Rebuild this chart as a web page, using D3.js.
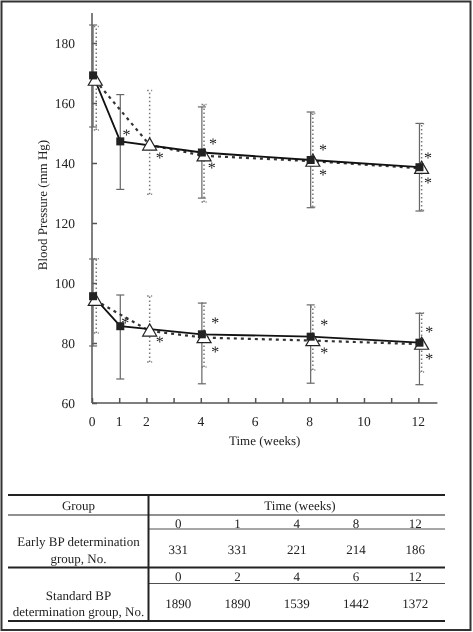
<!DOCTYPE html>
<html><head><meta charset="utf-8">
<script src="https://cdn.jsdelivr.net/npm/d3@7"></script>
<style>
html,body{margin:0;padding:0;background:#fff;}
svg{will-change:transform;transform:translateZ(0);}
svg text{text-rendering:geometricPrecision;}
</style></head><body>
<svg id="c" width="473" height="632" font-family="'Liberation Serif', 'Times New Roman', 'DejaVu Serif', serif"></svg>
<script>
// ---- data ----
const weeksEarly = [0, 1, 4, 8, 12];
const weeksStd = [0, 2, 4, 8, 12];
const sbpEarly = [169.2, 147.2, 143.5, 141.0, 138.6];
const sbpEarlyLo = [152.0, 131.2, 128.3, 125.1, 124.0];
const sbpEarlyHi = [186.0, 162.8, 158.7, 157.0, 153.2];
const sbpStd = [167.6, 146.0, 142.4, 140.6, 138.2];
const sbpStdLo = [151.0, 129.6, 127.0, 125.3, 124.2];
const sbpStdHi = [185.5, 164.2, 159.5, 156.5, 153.1];
const dbpEarly = [95.6, 85.6, 82.9, 82.1, 80.1];
const dbpEarlyLo = [79.0, 68.0, 66.4, 66.6, 66.1];
const dbpEarlyHi = [108.0, 96.0, 93.3, 92.7, 89.9];
const dbpStd = [94.2, 84.0, 81.8, 80.8, 79.6];
const dbpStdLo = [83.3, 73.7, 72.0, 71.0, 70.3];
const dbpStdHi = [108.1, 95.7, 93.3, 92.0, 90.0];
// significance markers [week, mmHg]
const starsPos = [
  [1.27,150.3],[2.49,142.6],[4.45,147.2],[4.40,139.5],[8.49,145.3],[8.49,137.0],[12.35,142.6],[12.35,134.2],
  [1.22,87.8],[2.49,81.2],[4.53,87.8],[4.53,78.1],[8.54,87.0],[8.54,77.8],[12.40,84.8],[12.40,75.6]
];
const yTicks = [60, 80, 100, 120, 140, 160, 180];
const xTickMarks = [0,1,2,3,4,5,6,7,8,9,10,11,12];
const xTickLabels = [0, 1, 2, 4, 6, 8, 10, 12];
const tableCols = ["0","1","4","8","12"];
const tableEarly = ["331","331","221","214","186"];
const tableColsStd = ["0","2","4","6","12"];
const tableStd = ["1890","1890","1539","1442","1372"];

// ---- drawing ----
const FONT = "Liberation Serif";
const svg = d3.select("#c");
svg.append("rect").attr("x",0).attr("y",0).attr("width",473).attr("height",632).attr("fill","#fff");
svg.append("rect").attr("x",1.5).attr("y",1.5).attr("width",469).attr("height",628.5)
  .attr("fill","none").attr("stroke","#333").attr("stroke-width",2);

const x = d3.scaleLinear().domain([0, 12.7]).range([92, 437.4]);
const y = d3.scaleLinear().domain([60, 190]).range([403, 13]);
const offE = 0.04, offS = 0.12;

function T(sel) {
  return sel.attr("font-family", FONT).attr("fill", "#222");
}

// axes
const axisCol = "#555";
const yAxis = svg.append("g").attr("transform","translate(92,0)")
  .call(d3.axisRight(y).tickValues(yTicks).tickSize(5).tickFormat(""));
yAxis.selectAll("path,line").attr("stroke",axisCol).attr("stroke-width",1.5);
yAxis.select(".domain").attr("d", `M0,${y(190)}V${y(60)}`);
T(svg.append("g").selectAll("text").data(yTicks).join("text"))
  .attr("x",75).attr("y",d=>y(d)+4.5).attr("text-anchor","end")
  .attr("font-size",13.5).text(d=>d);

const xAxis = svg.append("g").attr("transform",`translate(0,${y(60)})`)
  .call(d3.axisTop(x).tickValues(xTickMarks).tickSize(5).tickFormat(""));
xAxis.selectAll("path,line").attr("stroke",axisCol).attr("stroke-width",1.5);
xAxis.select(".domain").attr("d", `M${x(0)},0H${x(12.7)}`);
T(svg.append("g").selectAll("text").data(xTickLabels).join("text"))
  .attr("x",d=>x(d)).attr("y",426).attr("text-anchor","middle")
  .attr("font-size",13.5).text(d=>d);

T(svg.append("text")).attr("x",x(6.35)).attr("y",445).attr("text-anchor","middle")
  .attr("font-size",13).text("Time (weeks)");
T(svg.append("text")).attr("transform","translate(47,205) rotate(-90)")
  .attr("text-anchor","middle").attr("font-size",13).text("Blood Pressure (mm Hg)");

// error bars
function errBars(weeks, lo, hi, off, dotted) {
  const g = svg.append("g").attr("stroke", dotted ? "#777" : "#666")
    .attr("stroke-width", dotted ? 1.5 : 1.2).attr("fill","none");
  if (dotted) g.attr("stroke-dasharray","1.5,2.5");
  const cw = dotted ? 2.5 : 4;
  weeks.forEach((w,i)=>{
    const cx = x(w+off) + (dotted && w===0 ? 1 : 0);
    g.append("line").attr("x1",cx).attr("x2",cx).attr("y1",y(lo[i])).attr("y2",y(hi[i]));
    g.append("line").attr("x1",cx-cw).attr("x2",cx+cw).attr("y1",y(lo[i])).attr("y2",y(lo[i]));
    g.append("line").attr("x1",cx-cw).attr("x2",cx+cw).attr("y1",y(hi[i])).attr("y2",y(hi[i]));
  });
}
errBars(weeksEarly, sbpEarlyLo, sbpEarlyHi, offE, false);
errBars(weeksStd, sbpStdLo, sbpStdHi, offS, true);
errBars(weeksEarly, dbpEarlyLo, dbpEarlyHi, offE, false);
errBars(weeksStd, dbpStdLo, dbpStdHi, offS, true);

// lines
function series(weeks, vals, off, dashed) {
  const pts = weeks.map((w,i)=>[x(w+off), y(vals[i])]);
  svg.append("path").attr("d", d3.line()(pts)).attr("fill","none")
    .attr("stroke", dashed ? "#333" : "#111").attr("stroke-width", dashed ? 2.2 : 1.8)
    .attr("stroke-dasharray", dashed ? "3,4" : null);
  return pts;
}
const pSS = series(weeksStd, sbpStd, offS, true);
const pDS = series(weeksStd, dbpStd, offS, true);
const pSE = series(weeksEarly, sbpEarly, offE, false);
const pDE = series(weeksEarly, dbpEarly, offE, false);

// markers
const tri = d3.symbol().type(d3.symbolTriangle).size(85);
[pSS, pDS].forEach(pts=>{
  svg.append("g").selectAll("path").data(pts).join("path")
    .attr("d", tri).attr("transform", d=>`translate(${d[0]},${d[1]+1})`)
    .attr("fill","#fff").attr("stroke","#222").attr("stroke-width",1.2);
});
[pSE, pDE].forEach(pts=>{
  svg.append("g").selectAll("rect").data(pts).join("rect")
    .attr("x", d=>d[0]-4).attr("y", d=>d[1]-4).attr("width",8).attr("height",8)
    .attr("fill","#222");
});

// asterisks
T(svg.append("g").selectAll("text").data(starsPos).join("text"))
  .attr("x", d=>x(d[0])).attr("y", d=>y(d[1])+8).attr("text-anchor","middle")
  .attr("font-size",16).text("*");

// ---- table ----
const tL = 8, tR = 445, tDiv = 148.5;
const colW = (tR - tDiv) / 5;
const colX = i => tDiv + colW*(i+0.5);
const tg = svg.append("g");
function hline(yy, x1, x2, w) {
  tg.append("line").attr("x1",x1).attr("x2",x2).attr("y1",yy).attr("y2",yy)
    .attr("stroke","#222").attr("stroke-width",w);
}
hline(495, tL, tR, 2);
hline(515, tL, tR, 1.2);
hline(529, tDiv, tR, 0.8);
hline(567.5, tL, tR, 2);
hline(583.5, tDiv, tR, 0.8);
hline(621, tL, tR, 2);
tg.append("line").attr("x1",tDiv).attr("x2",tDiv).attr("y1",495).attr("y2",621)
  .attr("stroke","#222").attr("stroke-width",2);

function txt(s, xx, yy, anchor) {
  T(tg.append("text")).attr("x",xx).attr("y",yy).attr("text-anchor",anchor||"middle")
    .attr("font-size",13).text(s);
}
txt("Group", 78.5, 509.5);
txt("Time (weeks)", 300, 509.5);
tableCols.forEach((c,i)=>txt(c, colX(i), 527.5));
tableEarly.forEach((c,i)=>txt(c, colX(i), 553.5));
txt("Early BP determination", 78.5, 546);
txt("group, No.", 78.5, 562.5);
tableColsStd.forEach((c,i)=>txt(c, colX(i), 580.5));
tableStd.forEach((c,i)=>txt(c, colX(i), 607.5));
txt("Standard BP", 78.5, 599.5);
txt("determination group, No.", 78.5, 615.5);
</script>
</body></html>
